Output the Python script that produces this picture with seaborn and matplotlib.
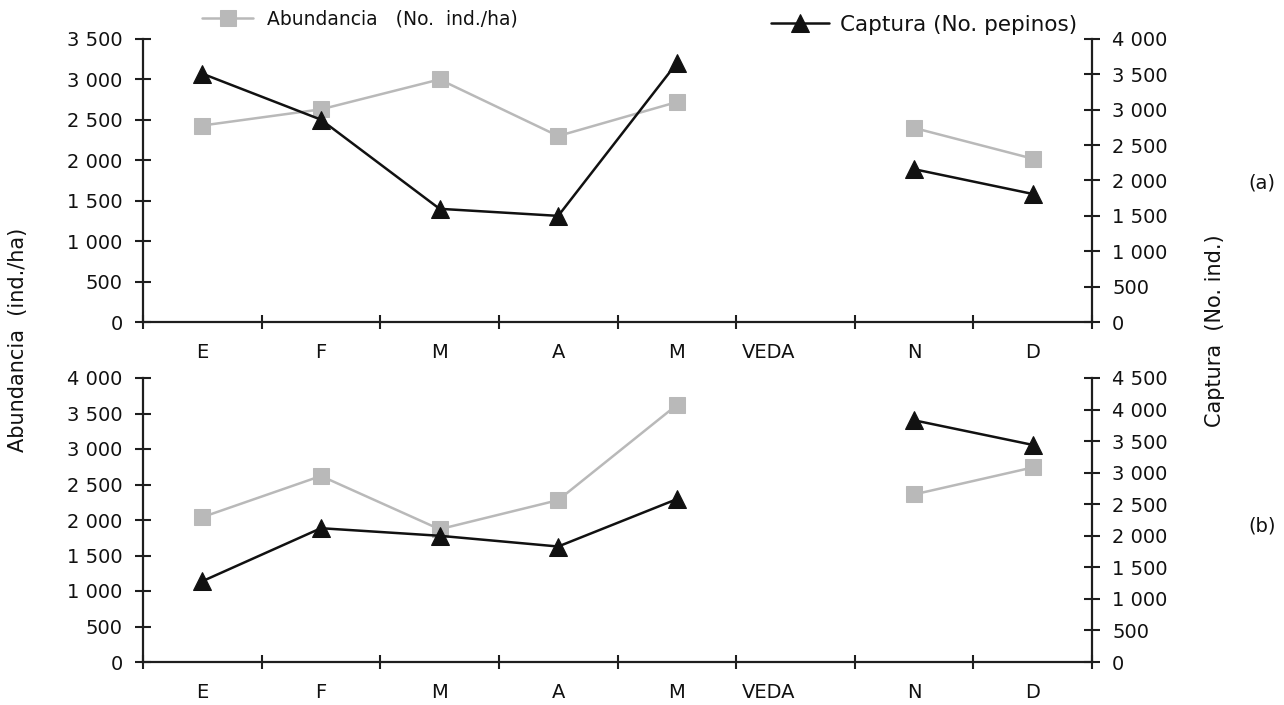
#####----- Abundancia y captura de pepino de mar por mes, dos zonas (a) y (b)

#####----- IMPORTS
import numpy as np
import pandas as pd
import seaborn as sns
import matplotlib.pyplot as plt
from matplotlib.ticker import FixedLocator, FuncFormatter, NullFormatter

#####----- DATA
months = ["E", "F", "M", "A", "M", "VEDA", "N", "D"]
# tramo: 0 = antes de la veda, 1 = despues, None = veda (sin datos)
tramo = [0, 0, 0, 0, 0, None, 1, 1]

abund_a = [2430, 2630, 3000, 2300, 2720, None, 2400, 2020]
captura_a = [3510, 2860, 1600, 1500, 3660, None, 2160, 1810]
abund_b = [2040, 2620, 1870, 2280, 3620, None, 2360, 2740]
captura_b = [1280, 2120, 2000, 1830, 2580, None, 3830, 3440]

left_ticks_a = [0, 500, 1000, 1500, 2000, 2500, 3000, 3500]
right_ticks_a = [0, 500, 1000, 1500, 2000, 2500, 3000, 3500, 4000]
left_ticks_b = [0, 500, 1000, 1500, 2000, 2500, 3000, 3500, 4000]
right_ticks_b = [0, 500, 1000, 1500, 2000, 2500, 3000, 3500, 4000, 4500]

label_abund = "Abundancia   (No.  ind./ha)"
label_captura = "Captura (No. pepinos)"

#####----- STYLE
sns.set_style("ticks")
plt.rcParams['font.family'] = ['DejaVu Sans']
plt.rcParams['font.size'] = 14
TXT = '#111111'
plt.rcParams['text.color'] = TXT
plt.rcParams['xtick.color'] = TXT
plt.rcParams['ytick.color'] = TXT
plt.rcParams['xtick.labelcolor'] = TXT
plt.rcParams['ytick.labelcolor'] = TXT

GRAY = '#b9b9b9'
BLACK = '#111111'
SPINE = '#1e1e1e'
FS = 14


def panel_df(abund, captura):
    df = pd.DataFrame({'pos': np.arange(len(months)), 'tramo': tramo,
                       'abund': abund, 'captura': captura})
    return df.dropna().astype({'tramo': int})


def fmt(v, _):
    return "{:,.0f}".format(v).replace(",", " ")


def style_axes(ax, ax2, lticks, rticks):
    for s in ['top', 'right']:
        ax.spines[s].set_visible(False)
    for s in ['top', 'left', 'bottom']:
        ax2.spines[s].set_visible(False)
    for sp in [ax.spines['left'], ax.spines['bottom'], ax2.spines['right']]:
        sp.set_color(SPINE)
        sp.set_linewidth(1.6)

    ax.set_xlim(-0.5, len(months) - 0.5)
    ax.xaxis.set_major_locator(FixedLocator(np.arange(len(months) + 1) - 0.5))
    ax.xaxis.set_major_formatter(NullFormatter())
    ax.xaxis.set_minor_locator(FixedLocator(np.arange(len(months))))
    ax.set_xticklabels(months, minor=True, fontsize=FS)
    for t in ax.get_xticklabels(minor=True):
        if t.get_text() == "VEDA":
            t.set_ha('right')
    ax.tick_params(axis='x', which='major', direction='inout', length=10,
                   width=1.5, color=SPINE)
    ax.tick_params(axis='x', which='minor', length=0, pad=15)

    ax.set_ylim(lticks[0], lticks[-1])
    ax.yaxis.set_major_locator(FixedLocator(lticks))
    ax.yaxis.set_major_formatter(FuncFormatter(fmt))
    ax.tick_params(axis='y', direction='inout', length=11, width=1.5,
                   color=SPINE, pad=9, labelsize=FS)

    ax2.set_ylim(rticks[0], rticks[-1])
    ax2.yaxis.set_major_locator(FixedLocator(rticks))
    ax2.yaxis.set_major_formatter(FuncFormatter(fmt))
    ax2.tick_params(axis='y', direction='inout', length=11, width=1.5,
                    color=SPINE, pad=9, labelsize=FS)
    ax.set_xlabel('')
    ax.set_ylabel('')
    ax2.set_ylabel('')


def draw_panel(ax, abund, captura, lticks, rticks):
    df = panel_df(abund, captura)
    ax2 = ax.twinx()
    sns.lineplot(data=df, x='pos', y='abund', units='tramo', estimator=None,
                 color=GRAY, marker='s', markersize=12, markeredgecolor=GRAY,
                 linewidth=1.8, legend=False, ax=ax)
    sns.lineplot(data=df, x='pos', y='captura', units='tramo', estimator=None,
                 color=BLACK, marker='^', markersize=13, markeredgecolor=BLACK,
                 linewidth=1.8, legend=False, ax=ax2)
    for ln in ax.lines + ax2.lines:
        ln.set_clip_on(False)
    style_axes(ax, ax2, lticks, rticks)
    return ax2


#####----- FIGURE
W, H = 1284, 705
fig = plt.figure(figsize=(W / 100, H / 100), dpi=100)
ax_a = fig.add_axes([143 / W, 1 - 322 / H, 949 / W, 283 / H])
ax_b = fig.add_axes([143 / W, 1 - 662 / H, 949 / W, 284 / H])

ax_a2 = draw_panel(ax_a, abund_a, captura_a, left_ticks_a, right_ticks_a)
ax_b2 = draw_panel(ax_b, abund_b, captura_b, left_ticks_b, right_ticks_b)

# legends (one per series, as in the original)
fig.legend([ax_a.lines[0]], [label_abund], loc='center left',
           bbox_to_anchor=(193 / W, 1 - 19 / H), frameon=False, borderpad=0,
           handlelength=2.7, handletextpad=0.75, fontsize=13.5)
fig.legend([ax_a2.lines[0]], [label_captura], loc='center left',
           bbox_to_anchor=(760 / W, 1 - 25 / H), frameon=False, borderpad=0,
           handlelength=2.7, handletextpad=0.5, fontsize=15.5)

fig.text(18 / W, 1 - 340 / H, "Abundancia  (ind./ha)", rotation=90,
         ha='center', va='center', fontsize=15)
fig.text(1215 / W, 1 - 331 / H, "Captura  (No. ind.)", rotation=90,
         ha='center', va='center', fontsize=15)
fig.text(1262 / W, 1 - 183 / H, "(a)", ha='center', va='center', fontsize=14)
fig.text(1262 / W, 1 - 526 / H, "(b)", ha='center', va='center', fontsize=14)

plt.savefig("out.png", dpi=100)
